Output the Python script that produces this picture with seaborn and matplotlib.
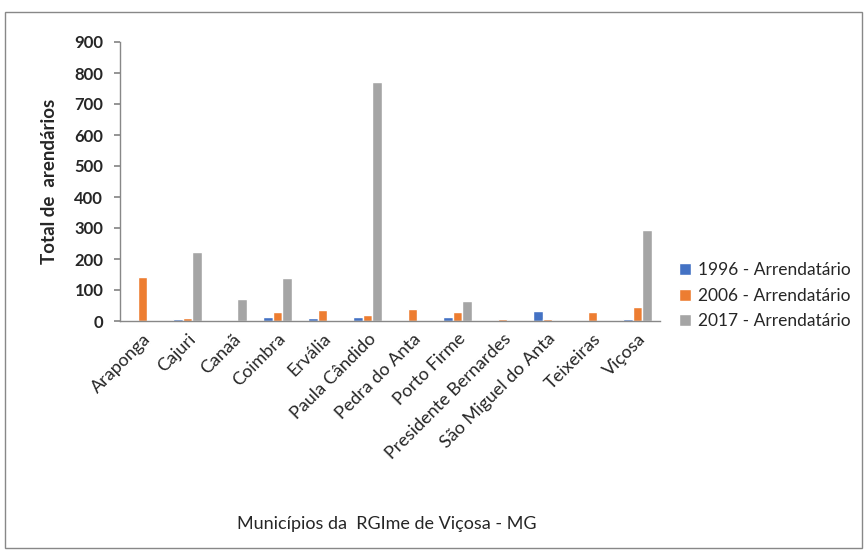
import matplotlib
matplotlib.use("Agg")
import matplotlib.pyplot as plt
import seaborn as sns
import pandas as pd
from matplotlib.patches import Rectangle

municipios = ["Araponga", "Cajuri", "Canaã", "Coimbra", "Ervália", "Paula Cândido",
              "Pedra do Anta", "Porto Firme", "Presidente Bernardes", "São Miguel do Anta",
              "Teixeiras", "Viçosa"]
series_names = ["1996 - Arrendatário", "2006 - Arrendatário", "2017 - Arrendatário"]
v1996 = [0, 5, 4, 13, 9, 12, 0, 12, 0, 33, 4, 8]
v2006 = [143, 9, 4, 28, 36, 20, 40, 28, 8, 6, 29, 44]
v2017 = [0, 221, 71, 138, 0, 770, 0, 63, 0, 0, 0, 295]
yticks = [0, 100, 200, 300, 400, 500, 600, 700, 800, 900]
colors = ["#4472C4", "#ED7D31", "#A5A5A5"]

rows = []
for name, vals in zip(series_names, [v1996, v2006, v2017]):
    for m, v in zip(municipios, vals):
        rows.append({"Município": m, "Série": name, "Valor": v})
df = pd.DataFrame(rows)

sns.set_theme(style="white")
plt.rcParams['font.family'] = ['Lato', 'DejaVu Sans']

fig = plt.figure(figsize=(8.68, 5.56), dpi=100)
ax = fig.add_axes([120/868, 1-321/556, (660-120)/868, (321-42)/556])

sns.barplot(data=df, x="Município", y="Valor", hue="Série", palette=colors,
            width=0.64, ax=ax, saturation=1, legend=True)

ax.set_ylim(0, 900)
ax.set_xlim(-0.5, len(municipios)-0.5)
ax.set_yticks(yticks)
ax.set_yticklabels([str(t) for t in yticks], fontsize=12, fontweight="bold")
ax.set_xticks(range(len(municipios)))
ax.set_xticklabels(municipios, rotation=45, ha="right", rotation_mode="anchor", fontsize=13)
ax.tick_params(axis="x", length=0, pad=7)
ax.tick_params(axis="y", length=4, color="#888888", direction="out", left=True, pad=8)
ax.set_xlabel("Municípios da  RGIme de Viçosa - MG", fontsize=13)
ax.set_ylabel("Total de  arendários", fontsize=13.5, fontweight="bold")
ax.xaxis.set_label_coords(0.494, -0.70)
ax.yaxis.set_label_coords(-0.115, 0.5)
for s in ["top", "right"]:
    ax.spines[s].set_visible(False)
for s in ["left", "bottom"]:
    ax.spines[s].set_color("#888888")
    ax.spines[s].set_linewidth(1)

leg = ax.legend(loc="center left", bbox_to_anchor=(1.035, 0.09), frameon=False,
                fontsize=12.5, handlelength=0.7, handleheight=0.7, labelspacing=0.55,
                handletextpad=0.4, borderpad=0, borderaxespad=0)

fig.patches.append(Rectangle((5/868, 8/556), 857/868, 536/556, transform=fig.transFigure,
                             fill=False, edgecolor="#888888", linewidth=1))
fig.savefig("out.png", dpi=100)
